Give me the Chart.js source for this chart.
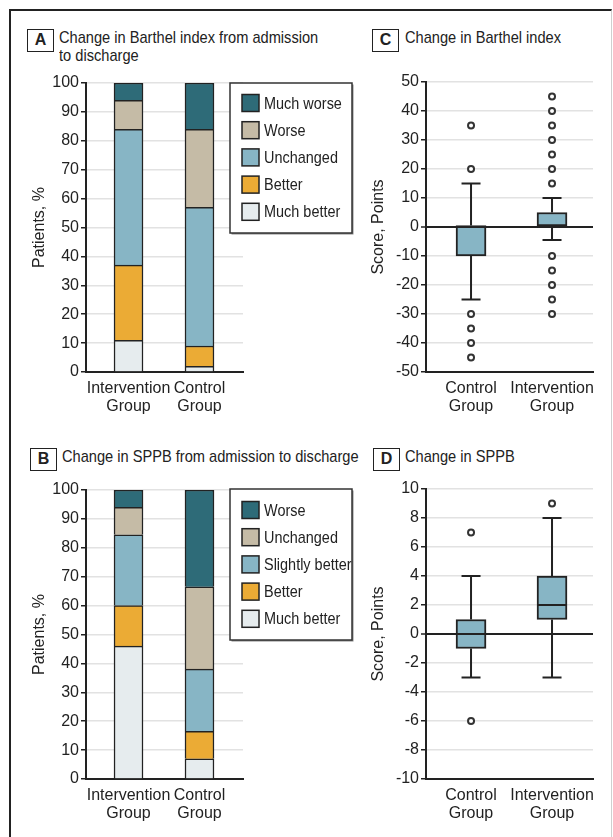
<!DOCTYPE html>
<html lang="en">
<head>
  <meta charset="UTF-8">
  <title>Change in Barthel index and SPPB</title>
  <script src="https://cdn.jsdelivr.net/npm/chart.js"></script>
  <style>
    body { margin: 0; width: 613px; height: 837px; overflow: hidden; position: relative; background: #fff; color: #222;
           font-family: 'Liberation Sans', Arial, sans-serif; }
    .frame { position: absolute; left: 9px; top: 9px; width: 600px; height: 900px; border-left: 2.5px solid #222; border-top: 2.5px solid #222; border-right: 1px solid #cfcfcf; }
    .tag { position: absolute; box-sizing: border-box; width: 27px; height: 23px; border: 1.5px solid #222; font-weight: bold; font-size: 16px; line-height: 20px; text-align: center; }
    .title { position: absolute; font-size: 17px; line-height: 18px; white-space: nowrap; transform: scaleX(0.86); transform-origin: 0 0; }
    canvas { position: absolute; }
  </style>
</head>
<body>
  <div class="frame"></div>

  <div class="tag" style="left:27px; top:29px;">A</div>
  <div class="title" style="left:59px; top:29px;">Change in Barthel index from admission<br>to discharge</div>
  <div class="tag" style="left:372px; top:29px;">C</div>
  <div class="title" style="left:405px; top:29px;">Change in Barthel index</div>
  <div class="tag" style="left:30px; top:448px;">B</div>
  <div class="title" style="left:62px; top:448px;">Change in SPPB from admission to discharge</div>
  <div class="tag" style="left:373px; top:448px;">D</div>
  <div class="title" style="left:405px; top:448px;">Change in SPPB</div>

  <canvas id="chartA" width="360" height="370" style="left:0; top:60px;"></canvas>
  <canvas id="chartC" width="253" height="370" style="left:360px; top:60px;"></canvas>
  <canvas id="chartB" width="360" height="367" style="left:0; top:470px;"></canvas>
  <canvas id="chartD" width="253" height="367" style="left:360px; top:470px;"></canvas>

  <script>
    const barCats = [['Intervention', 'Group'], ['Control', 'Group']];
    const boxCats = [['Control', 'Group'], ['Intervention', 'Group']];

    // % of patients, bottom segment first
    const barthelLabels = ['Much better', 'Better', 'Unchanged', 'Worse', 'Much worse'];
    const barthelIntervention = [11, 26, 47, 10, 6];
    const barthelControl = [2, 7, 48, 27, 16];

    const sppbLabels = ['Much better', 'Better', 'Slightly better', 'Unchanged', 'Worse'];
    const sppbIntervention = [46, 14, 24.5, 9.5, 6];
    const sppbControl = [7, 9.5, 21.5, 28.5, 33.5];

    const fillColors = ['#e6ecee', '#ebab35', '#87b5c5', '#c5bba6', '#2e6b78'];

    // box plots: [low whisker, q1, median, q3, high whisker]
    const barthelBoxControl = [-25, -10, 0, 0.5, 15];
    const barthelBoxIntervention = [-4.5, 0, 0, 5, 10];
    const barthelOutControl = [35, 20, -30, -35, -40, -45];
    const barthelOutIntervention = [45, 40, 35, 30, 25, 20, 15, -10, -15, -20, -25, -30];

    const sppbBoxControl = [-3, -1, 0, 1, 4];
    const sppbBoxIntervention = [-3, 1, 2, 4, 8];
    const sppbOutControl = [7, -6];
    const sppbOutIntervention = [9];

    const family = "'Liberation Sans', Arial, sans-serif";
    const ink = '#222';
    Chart.defaults.font.family = family;
    Chart.defaults.color = ink;

    // legend box drawn over the right part of the plot
    const boxLegend = {
      id: 'boxLegend',
      afterDraw(chart, args, o) {
        if (!o.display) return;
        const ctx = chart.ctx;
        ctx.save();
        ctx.fillStyle = '#8a8a8a';
        ctx.fillRect(o.x + 1.5, o.y + 1.5, o.w, o.h);
        ctx.fillStyle = '#fff';
        ctx.fillRect(o.x, o.y, o.w, o.h);
        ctx.strokeStyle = '#333';
        ctx.lineWidth = 1.5;
        ctx.strokeRect(o.x, o.y, o.w, o.h);
        ctx.font = '17px ' + family;
        ctx.textBaseline = 'middle';
        chart.data.datasets.slice().reverse().forEach((ds, i) => {
          const cy = o.y + o.first + i * o.step;
          ctx.fillStyle = ds.backgroundColor;
          ctx.fillRect(o.x + 12, cy - 8.5, 17, 17);
          ctx.strokeStyle = ink;
          ctx.strokeRect(o.x + 12, cy - 8.5, 17, 17);
          ctx.fillStyle = ink;
          ctx.save();
          ctx.translate(o.x + 34, cy + 1);
          ctx.scale(0.85, 1);
          ctx.fillText(ds.label, 0, 0);
          ctx.restore();
        });
        ctx.restore();
      }
    };

    // whiskers, caps and medians for the floating-bar boxes
    const whiskers = {
      id: 'whiskers',
      afterDatasetsDraw(chart) {
        const { ctx, scales: { x, y } } = chart;
        chart.data.datasets.forEach((ds, di) => {
          if (!ds.stats) return;
          const meta = chart.getDatasetMeta(di);
          ds.stats.forEach(([lo, q1, med, q3, hi], i) => {
            const cx = x.getPixelForValue(i + 1);
            const half = meta.data[i].width / 2;
            ctx.save();
            ctx.strokeStyle = ink;
            ctx.lineWidth = 2;
            ctx.beginPath();
            ctx.moveTo(cx, y.getPixelForValue(q3)); ctx.lineTo(cx, y.getPixelForValue(hi));
            ctx.moveTo(cx - 9.5, y.getPixelForValue(hi)); ctx.lineTo(cx + 9.5, y.getPixelForValue(hi));
            ctx.moveTo(cx, y.getPixelForValue(q1)); ctx.lineTo(cx, y.getPixelForValue(lo));
            ctx.moveTo(cx - 9.5, y.getPixelForValue(lo)); ctx.lineTo(cx + 9.5, y.getPixelForValue(lo));
            ctx.moveTo(cx - half, y.getPixelForValue(med)); ctx.lineTo(cx + half, y.getPixelForValue(med));
            ctx.stroke();
            ctx.restore();
          });
        });
      }
    };

    function xAxis(cats, min, max) {
      return {
        type: 'linear', min, max, stacked: true, offset: false,
        grid: { display: false, drawTicks: false },
        border: { color: ink, width: 2 },
        afterBuildTicks: s => { s.ticks = cats.map((c, i) => ({ value: i + 1 })); },
        ticks: { callback: v => cats[v - 1], font: { size: 16, lineHeight: 1.15 }, padding: 7, maxRotation: 0, autoSkip: false },
        afterFit: s => { s.height = 58; }
      };
    }

    function yAxis(min, max, step, title, width, titlePad, zeroLine) {
      return {
        min, max, stacked: !zeroLine,
        ticks: { stepSize: step, font: { size: 16 }, padding: 2 },
        grid: {
          color: c => zeroLine && c.tick && c.tick.value === 0 ? ink : '#e2e2e2',
          lineWidth: c => zeroLine && c.tick && c.tick.value === 0 ? 2 : 1.5,
          tickColor: ink, tickLength: 5, tickWidth: 1.5
        },
        border: { color: ink, width: 2 },
        title: { display: true, text: title, font: { size: 16 }, padding: { top: titlePad, bottom: 0 } },
        afterFit: s => { s.width = width; }
      };
    }

    function stackedChart(id, labels, inter, ctrl, padTop, legendTop, legendH, first) {
      new Chart(document.getElementById(id), {
        type: 'bar',
        data: {
          datasets: labels.map((label, i) => ({
            label,
            data: [{ x: 1, y: inter[i] }, { x: 2, y: ctrl[i] }],
            backgroundColor: fillColors[i], borderColor: ink, borderWidth: 1.5, barThickness: 29
          }))
        },
        options: {
          responsive: false, animation: false,
          layout: { padding: { top: padTop, right: 117, left: 0, bottom: 0 } },
          scales: { x: xAxis(barCats, 0.401, 2.613), y: yAxis(0, 100, 10, 'Patients, %', 86, 30, false) },
          plugins: {
            legend: { display: false }, tooltip: { enabled: false },
            boxLegend: { display: true, x: 230, y: legendTop, w: 122, h: legendH, first, step: 27.2 }
          }
        },
        plugins: [boxLegend]
      });
    }

    function boxChart(id, statsCtrl, statsInter, outCtrl, outInter, min, max, step, padTop) {
      new Chart(document.getElementById(id), {
        type: 'bar',
        data: {
          datasets: [
            {
              type: 'scatter',
              data: outCtrl.map(v => ({ x: 1, y: v })).concat(outInter.map(v => ({ x: 2, y: v }))),
              pointRadius: 3, borderWidth: 2, borderColor: '#333', backgroundColor: '#fff'
            },
            {
              stats: [statsCtrl, statsInter],
              data: [statsCtrl, statsInter].map((s, i) => ({ x: i + 1, y: [s[1], s[3]] })),
              backgroundColor: fillColors[2], borderColor: ink, borderWidth: 2, borderSkipped: false, barThickness: 30
            }
          ]
        },
        options: {
          responsive: false, animation: false,
          layout: { padding: { top: padTop, right: 20, left: 0, bottom: 0 } },
          scales: { x: xAxis(boxCats, 0.444, 2.506), y: yAxis(min, max, step, 'Score, Points', 66, 9, true) },
          plugins: { legend: { display: false }, tooltip: { enabled: false } }
        },
        plugins: [whiskers]
      });
    }

    stackedChart('chartA', barthelLabels, barthelIntervention, barthelControl, 23, 23, 150, 20);
    stackedChart('chartB', sppbLabels, sppbIntervention, sppbControl, 20, 19, 151, 21);
    boxChart('chartC', barthelBoxControl, barthelBoxIntervention, barthelOutControl, barthelOutIntervention, -50, 50, 10, 22);
    boxChart('chartD', sppbBoxControl, sppbBoxIntervention, sppbOutControl, sppbOutIntervention, -10, 10, 2, 19);
  </script>
</body>
</html>
